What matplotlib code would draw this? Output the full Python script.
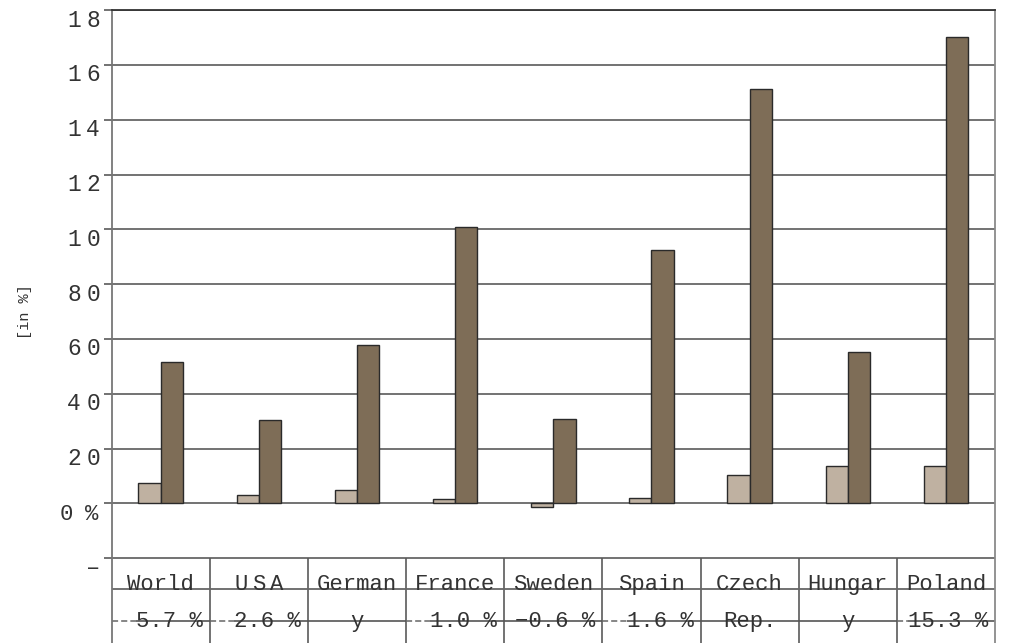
import matplotlib
matplotlib.use("Agg")
import matplotlib.pyplot as plt
import numpy as np

# ---- data -------------------------------------------------------------
categories = ["World", "USA", "German", "France", "Sweden",
              "Spain", "Czech", "Hungar", "Poland"]
row2_labels = ["5.7 %", "2.6 %", "y", "1.0 %", "\u22120.6 %",
               "1.6 %", "Rep.", "y", "15.3 %"]
light_values = [7.4, 3.1, 5.0, 1.7, -1.5, 1.9, 10.2, 13.6, 13.6]
dark_values = [51.5, 30.3, 57.8, 100.8, 30.8, 92.4, 151.3, 55.1, 170.4]
tick_values = [180, 160, 140, 120, 100, 80, 60, 40, 20, 0, -20]
tick_labels = ["18", "16", "14", "12", "10", "80", "60", "40", "20", "0 %", "\u2013"]
axis_label = "[in %]"

# ---- style ------------------------------------------------------------
FONT = ["Liberation Mono", "DejaVu Sans Mono"]
TEXT = "#333333"
LIGHT = "#bfb1a1"
DARK = "#7e6d57"
EDGE = "#2a2a2a"
GRID = "#5a5a5a"
PX = 0.72  # points per pixel at 100 dpi

W, H = 1009, 643
fig = plt.figure(figsize=(W / 100, H / 100), dpi=100)
left_px, right_px, top_px = 111.7, 995.0, 10.3
ax = fig.add_axes([left_px / W, 0, (right_px - left_px) / W, (H - top_px) / H])

n = len(categories)
x = np.arange(n)
bw = 0.227

ax.set_xlim(-0.5, n - 0.5)
ax.set_ylim(-51.0, 180)

# gridlines and ticks
for v in tick_values:
    ax.axhline(v, color=GRID, lw=1.2, zorder=1)
ax.set_yticks(tick_values)
ax.set_yticklabels([])
ax.set_xticks([])
ax.tick_params(axis="y", length=5.5, width=1.2, color=GRID, direction="out")

for side, col in [("top", "#333333"), ("left", "#777777"), ("right", "#8a8a8a")]:
    ax.spines[side].set_color(col)
    ax.spines[side].set_linewidth(1.3)
ax.spines["bottom"].set_visible(False)

# bars
ax.bar(x - bw / 2, light_values, width=bw, color=LIGHT, edgecolor=EDGE,
       linewidth=1.0, zorder=3)
ax.bar(x + bw / 2, dark_values, width=bw, color=DARK, edgecolor=EDGE,
       linewidth=1.0, zorder=3)


def spaced(s, xy, xycoords, anchor_px, pitch_px, dy_px, size, align="right"):
    """Draw a string one character at a time with a fixed pitch."""
    m = len(s)
    for i, ch in enumerate(s):
        if ch == " ":
            continue
        if align == "right":
            off = anchor_px - (m - 1 - i) * pitch_px
        else:
            off = anchor_px + (i - (m - 1) / 2) * pitch_px
        ax.annotate(ch, xy=xy, xycoords=xycoords,
                    xytext=(off * PX, dy_px * PX), textcoords="offset points",
                    ha="center", va="baseline", fontsize=size,
                    family=FONT, color=TEXT, annotation_clip=False)


# y tick labels
for v, lab in zip(tick_values, tick_labels):
    if lab == "0 %":
        spaced(lab, (0, v), ("axes fraction", "data"), -19.7, 13.0, -16.2, 16)
    elif len(lab) == 1:
        spaced(lab, (0, v), ("axes fraction", "data"), -18.7, 19.0, -16.2, 17)
    else:
        spaced(lab, (0, v), ("axes fraction", "data"), -18.7, 19.0, -16.4, 16.5)

fig.text(24.5 / W, 1 - 311.7 / H, axis_label, rotation=90, ha="center",
         va="center", fontsize=11, family=FONT, color=TEXT)

# table below the zero line
row1_line = -31.3
row2_line = -42.9
row1_base = -31.6
row2_base = -45.0

ax.vlines(np.arange(1, n) - 0.5, -51.0, -20, color=GRID, lw=1.2, zorder=2)
ax.hlines(row1_line, -0.5, n - 0.5, color="#666666", lw=1.3, zorder=2)

for i, name in enumerate(categories):
    if name == "USA":
        spaced(name, (i, row1_base), "data", 0, 17.5, 0, 16, align="center")
    else:
        ax.text(i, row1_base, name, ha="center", va="baseline", fontsize=16,
                family=FONT, color=TEXT, zorder=4)

row2_texts = []
for i, lab in enumerate(row2_labels):
    if "%" in lab:
        t = ax.annotate(lab, xy=(i + 0.5, row2_base), xycoords="data",
                        xytext=(-7 * PX, 0), textcoords="offset points",
                        ha="right", va="baseline", fontsize=16, family=FONT,
                        color=TEXT, zorder=4)
    else:
        t = ax.text(i, row2_base, lab, ha="center", va="baseline",
                    fontsize=16, family=FONT, color=TEXT, zorder=4)
    row2_texts.append(t)

# second rule: dashed lead-in before numbers, solid under the text
fig.canvas.draw()
renderer = fig.canvas.get_renderer()
inv = ax.transData.inverted()
for i, (lab, t) in enumerate(zip(row2_labels, row2_texts)):
    if "%" in lab and not lab.startswith("\u2212"):
        bb = t.get_window_extent(renderer)
        x0 = inv.transform((bb.x0, 0))[0]
        ax.hlines(row2_line, i - 0.5, x0, color="#666666", lw=1.1,
                  linestyles=(0, (4, 2)), zorder=2)
        ax.hlines(row2_line, x0, i + 0.5, color="#555555", lw=1.2, zorder=2)
    else:
        ax.hlines(row2_line, i - 0.5, i + 0.5, color="#555555", lw=1.2, zorder=2)

fig.savefig("out.png", dpi=100, facecolor="white")
